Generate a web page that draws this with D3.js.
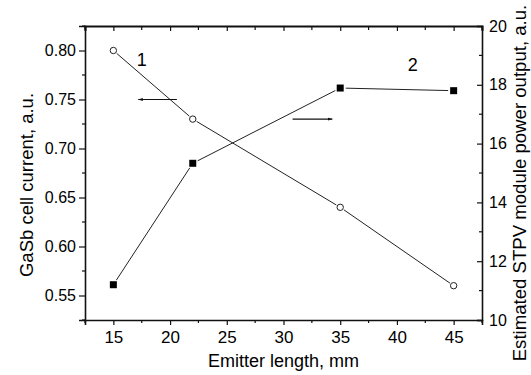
<!DOCTYPE html>
<html>
<head>
<meta charset="utf-8">
<script src="https://cdn.jsdelivr.net/npm/d3@7"></script>
<style>
  html, body { margin: 0; padding: 0; background: #fff; }
  svg text { font-family: "Liberation Sans", Arial, sans-serif; fill: #000; }
</style>
</head>
<body>
<svg id="chart" width="531" height="375"></svg>
<script>
// Emitter length (mm) for both series
const emitterLength = [15, 22, 35, 45];
// Curve 1: GaSb cell current (left axis)
const cellCurrent = [0.80, 0.73, 0.64, 0.56];
// Curve 2: estimated STPV module power output (right axis)
const modulePower = [11.2, 15.33, 17.89, 17.8];

const xTicks = [15, 20, 25, 30, 35, 40, 45];
const leftTicks = [0.55, 0.60, 0.65, 0.70, 0.75, 0.80];
const rightTicks = [10, 12, 14, 16, 18, 20];

const svg = d3.select("#chart");
const L = 85, R = 482, T = 26, B = 320;

const x = d3.scaleLinear().domain([12.5, 47.5]).range([L, R]);
const yL = d3.scaleLinear().domain([0.525, 0.825]).range([B, T]);
const yR = d3.scaleLinear().domain([10, 20]).range([B, T]);

const ink = "#111";

// minor tick positions
const xMinor = d3.range(12.5, 47.6, 2.5).filter(v => !xTicks.includes(v));
const lMinor = d3.range(0, 7).map(i => +(0.525 + i * 0.05).toFixed(3)).filter(v => v < 0.826);
const rMinor = [11, 13, 15, 17, 19];

function styleAxis(g, w) {
  g.attr("font-family", null);
  g.selectAll("path.domain").attr("stroke", ink).attr("stroke-width", w);
  g.selectAll(".tick line").attr("stroke", ink).attr("stroke-width", 1.2);
  g.selectAll(".tick text").attr("font-size", 16).attr("fill", "#000");
}

// bottom axis (outward ticks)
const gB = svg.append("g").attr("transform", `translate(0,${B})`)
  .call(d3.axisBottom(x).tickValues(xTicks).tickSize(5).tickPadding(6).tickFormat(d3.format("d")));
styleAxis(gB, 1.6);
gB.selectAll(".tick text").attr("font-size", 17);
gB.append("g").selectAll("line").data(xMinor).join("line")
  .attr("x1", d => x(d)).attr("x2", d => x(d)).attr("y1", 0).attr("y2", 3)
  .attr("stroke", ink).attr("stroke-width", 1.2);

// top axis (inward ticks, no labels)
const gT = svg.append("g").attr("transform", `translate(0,${T})`)
  .call(d3.axisTop(x).tickValues(xTicks).tickSize(-5).tickFormat(""));
styleAxis(gT, 2);
gT.append("g").selectAll("line").data(xMinor).join("line")
  .attr("x1", d => x(d)).attr("x2", d => x(d)).attr("y1", 0).attr("y2", 4)
  .attr("stroke", ink).attr("stroke-width", 1.2);

// left axis (outward ticks)
const gL = svg.append("g").attr("transform", `translate(${L},0)`)
  .call(d3.axisLeft(yL).tickValues(leftTicks).tickSize(6).tickPadding(3).tickFormat(d3.format(".2f")));
styleAxis(gL, 1.6);
gL.append("g").selectAll("line").data(lMinor).join("line")
  .attr("x1", 0).attr("x2", -3).attr("y1", d => yL(d)).attr("y2", d => yL(d))
  .attr("stroke", ink).attr("stroke-width", 1.2);

// right axis (inward ticks)
const gR = svg.append("g").attr("transform", `translate(${R},0)`)
  .call(d3.axisRight(yR).tickValues(rightTicks).tickSize(-5).tickPadding(7).tickFormat(d3.format("d")));
styleAxis(gR, 1.6);
gR.append("g").selectAll("line").data(rMinor).join("line")
  .attr("x1", 0).attr("x2", -3).attr("y1", d => yR(d)).attr("y2", d => yR(d))
  .attr("stroke", ink).attr("stroke-width", 1.2);

// axis titles
svg.append("text").attr("x", (L + R) / 2).attr("y", 367)
  .attr("text-anchor", "middle").attr("font-size", 18)
  .text("Emitter length, mm");
svg.append("text").attr("transform", `translate(33,185) rotate(-90)`)
  .attr("text-anchor", "middle").attr("font-size", 18.5)
  .text("GaSb cell current, a.u.");
svg.append("text").attr("transform", `translate(526,183) rotate(-90)`)
  .attr("text-anchor", "middle").attr("font-size", 18.6)
  .text("Estimated STPV module power output, a.u.");

// connecting segments that stop short of the markers
function drawGappedLine(xs, ys, yScale, gap) {
  const pts = xs.map((d, i) => [x(d), yScale(ys[i])]);
  const segs = d3.pairs(pts).map(([a, b]) => {
    const dx = b[0] - a[0], dy = b[1] - a[1], len = Math.hypot(dx, dy);
    const ux = dx / len, uy = dy / len;
    return [a[0] + ux * gap, a[1] + uy * gap, b[0] - ux * gap, b[1] - uy * gap];
  });
  svg.append("g").selectAll("line").data(segs).join("line")
    .attr("x1", d => d[0]).attr("y1", d => d[1]).attr("x2", d => d[2]).attr("y2", d => d[3])
    .attr("stroke", "#222").attr("stroke-width", 1);
}

drawGappedLine(emitterLength, cellCurrent, yL, 4.5);
drawGappedLine(emitterLength, modulePower, yR, 5.5);

// curve 1 markers: open circles
svg.append("g").selectAll("circle").data(emitterLength).join("circle")
  .attr("cx", d => x(d)).attr("cy", (d, i) => yL(cellCurrent[i])).attr("r", 3.2)
  .attr("fill", "#fff").attr("stroke", "#222").attr("stroke-width", 1);

// curve 2 markers: filled squares
const sq = 7;
svg.append("g").selectAll("rect").data(emitterLength).join("rect")
  .attr("x", d => x(d) - sq / 2).attr("y", (d, i) => yR(modulePower[i]) - sq / 2)
  .attr("width", sq).attr("height", sq).attr("fill", "#000");

// arrows pointing each curve to its axis
const defs = svg.append("defs");
defs.append("marker").attr("id", "head").attr("viewBox", "0 0 10 10")
  .attr("refX", 9).attr("refY", 5).attr("markerWidth", 5).attr("markerHeight", 5)
  .attr("markerUnits", "userSpaceOnUse").attr("orient", "auto")
  .append("path").attr("d", "M0,2 L10,5 L0,8 Z").attr("fill", "#111");

const arrows = [
  { from: [20.6, 0.75], to: [17.2, 0.75] },
  { from: [30.8, 0.73], to: [34.3, 0.73] }
];
svg.append("g").selectAll("line").data(arrows).join("line")
  .attr("x1", d => x(d.from[0])).attr("y1", d => yL(d.from[1]))
  .attr("x2", d => x(d.to[0])).attr("y2", d => yL(d.to[1]))
  .attr("stroke", "#111").attr("stroke-width", 1.1).attr("marker-end", "url(#head)");

// curve numbers
const curveLabels = [
  { text: "1", at: [17.5, 0.784] },
  { text: "2", at: [41.4, 0.779] }
];
svg.append("g").selectAll("text").data(curveLabels).join("text")
  .attr("x", d => x(d.at[0])).attr("y", d => yL(d.at[1]))
  .attr("text-anchor", "middle").attr("font-size", 18)
  .text(d => d.text);
</script>
</body>
</html>
